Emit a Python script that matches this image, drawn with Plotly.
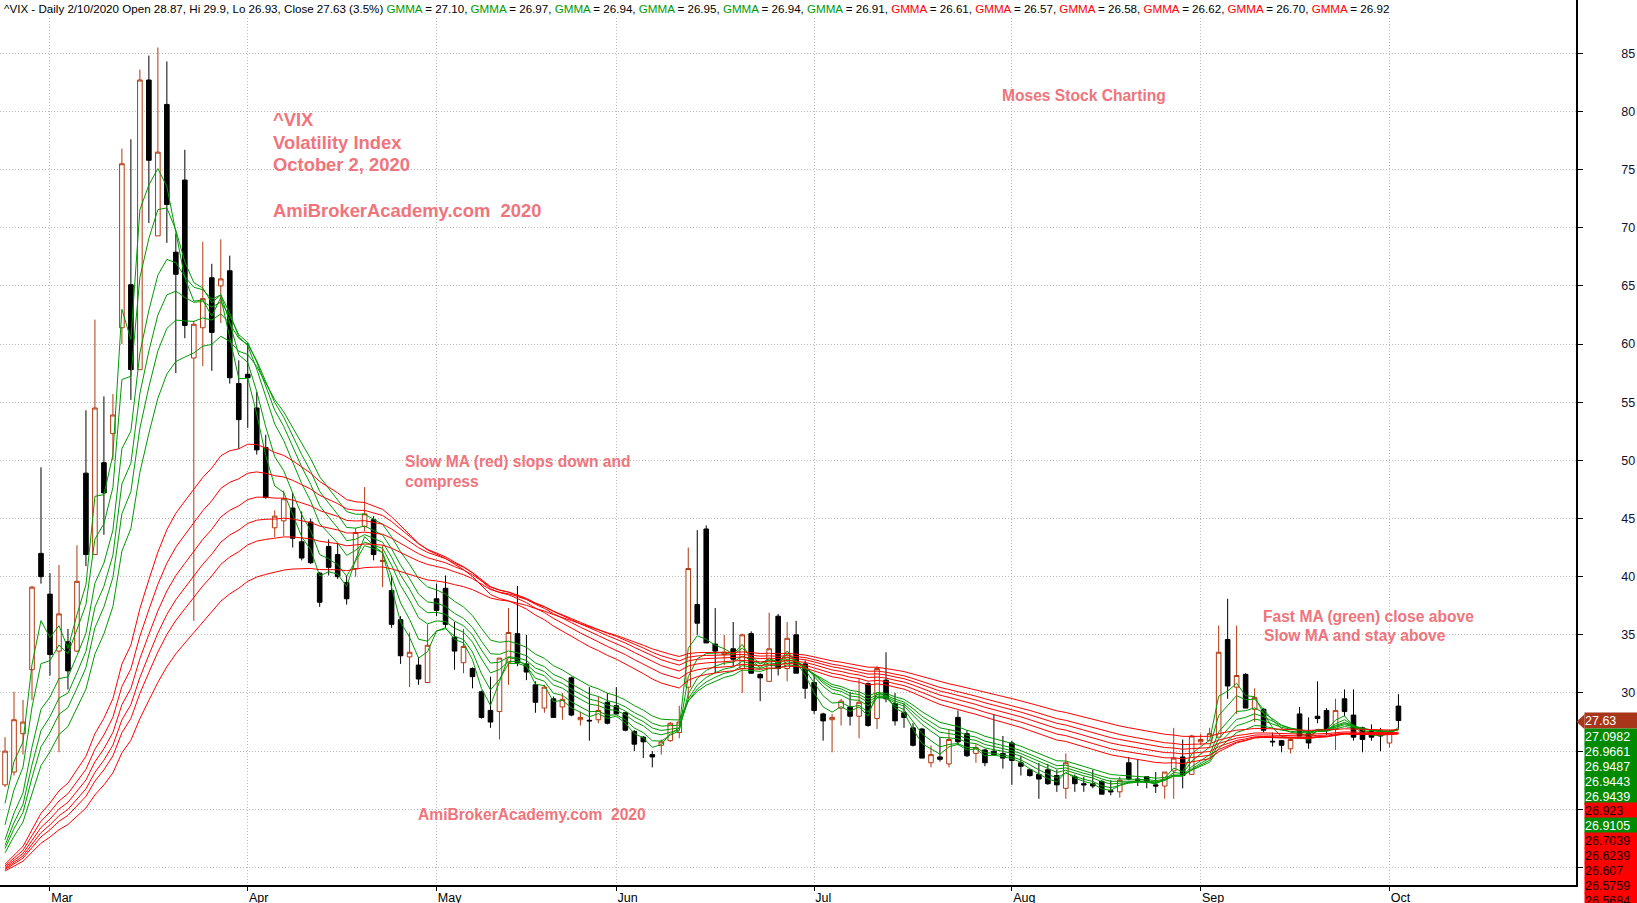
import plotly.graph_objects as go
import pandas as pd

# ---------------- data ----------------
holidays = ["2020-04-10", "2020-05-25", "2020-07-03", "2020-09-07"]
dates = [d for d in pd.bdate_range("2020-02-24", "2020-10-02") if d.strftime("%Y-%m-%d") not in holidays]

opens = [22.1, 23.2, 26.5, 32.0, 42.0, 38.5, 33.6, 34.4, 33.6, 48.9,
         41.9, 49.8, 52.3, 61.4, 65.1, 57.8, 82.7, 69.3, 80.6, 67.9,
         74.1, 58.8, 61.4, 65.7, 65.0, 66.3, 56.6, 57.4, 54.5, 51.1,
         44.2, 44.8, 45.9, 43.0, 44.7, 40.3, 42.6, 41.9, 39.5, 40.7,
         44.3, 44.9, 41.3, 38.8, 36.3, 33.1, 32.4, 30.9, 38.1, 39.0,
         34.8, 32.6, 32.1, 30.1, 28.5, 28.4, 32.6, 35.1, 32.5, 30.7,
         28.7, 29.5, 28.8, 31.3, 27.7, 27.65, 27.7, 29.2, 28.9, 28.3,
         26.7, 26.2, 24.7, 25.5, 25.9, 26.6, 30.5, 37.6, 44.1, 34.2,
         33.3, 33.8, 32.1, 35.1, 31.6, 31.0, 36.6, 32.1, 35.0, 32.5,
         30.9, 28.2, 27.7, 28.7, 28.8, 28.0, 30.8, 27.8, 31.1, 29.1,
         28.3, 27.0, 26.9, 24.0, 24.5, 23.9, 27.9, 26.5, 24.8, 25.1,
         25.0, 24.8, 25.7, 24.0, 23.4, 23.0, 23.4, 22.9, 21.8, 22.8,
         22.2, 22.2, 22.4, 21.6, 21.5, 24.0, 22.6, 22.8, 22.1, 22.0,
         23.3, 24.5, 23.0, 25.8, 25.9, 26.2, 34.6, 30.5, 31.6, 28.6,
         28.6, 25.85, 25.9, 25.2, 28.2, 26.5, 28.0, 28.5, 26.9, 29.5,
         28.1, 27.0, 26.7, 26.7, 25.7, 28.87]
highs = [26.2, 30.1, 29.4, 39.2, 49.4, 40.3, 41.0, 35.5, 42.7, 54.3,
         62.1, 55.5, 55.7, 76.8, 77.6, 83.6, 84.8, 85.5, 84.3, 69.5,
         76.7, 62.0, 68.8, 66.9, 69.0, 67.6, 58.6, 60.1, 55.9, 52.2,
         45.7, 47.4, 47.2, 45.6, 45.0, 40.4, 43.2, 42.9, 40.1, 44.2,
         47.7, 45.2, 42.7, 40.1, 36.6, 35.2, 33.1, 35.9, 39.4, 40.1,
         36.1, 35.5, 32.2, 30.2, 31.4, 33.0, 37.3, 39.2, 35.0, 31.0,
         30.7, 29.7, 30.0, 31.4, 28.4, 30.5, 29.7, 30.0, 30.5, 28.4,
         26.8, 26.3, 25.0, 26.0, 27.5, 28.9, 42.5, 44.0, 44.4, 37.3,
         35.0, 36.1, 35.1, 35.3, 31.7, 36.9, 36.8, 36.1, 36.2, 32.8,
         31.6, 28.3, 28.2, 29.5, 30.1, 31.3, 30.9, 32.3, 33.5, 30.0,
         29.1, 27.4, 27.0, 25.5, 26.2, 26.9, 28.5, 26.8, 25.6, 25.2,
         28.2, 26.3, 25.9, 24.6, 23.5, 24.0, 23.9, 23.4, 24.8, 23.0,
         22.8, 23.4, 22.5, 22.5, 22.8, 24.5, 24.3, 22.8, 23.2, 23.2,
         27.0, 26.0, 26.4, 26.5, 27.0, 35.8, 38.1, 35.8, 31.7, 30.4,
         28.7, 26.6, 25.95, 26.0, 28.8, 27.9, 31.0, 28.7, 29.5, 30.3,
         30.3, 27.1, 27.3, 27.0, 26.8, 29.9]
lows = [21.9, 22.9, 24.7, 29.4, 39.4, 31.5, 24.9, 30.3, 33.5, 40.9,
        41.9, 43.6, 50.0, 60.0, 55.2, 57.8, 70.4, 69.3, 68.7, 57.5,
        60.5, 36.2, 58.1, 57.7, 61.8, 56.6, 51.0, 52.8, 50.5, 46.7,
        43.4, 43.5, 42.5, 41.4, 41.1, 37.4, 40.1, 39.8, 37.6, 40.0,
        43.9, 41.4, 39.1, 35.6, 32.5, 30.5, 30.7, 30.9, 36.6, 35.6,
        32.0, 31.7, 30.4, 27.8, 27.0, 26.0, 30.7, 32.3, 31.1, 28.3,
        28.3, 27.9, 27.7, 28.0, 27.2, 25.9, 27.4, 27.3, 28.2, 26.7,
        25.0, 24.4, 23.6, 24.7, 25.8, 26.1, 29.5, 35.0, 34.3, 31.7,
        32.4, 32.3, 30.0, 31.7, 29.3, 31.0, 31.5, 31.0, 31.7, 29.5,
        28.2, 25.9, 24.9, 27.2, 27.2, 26.1, 27.1, 26.9, 29.2, 27.2,
        27.0, 25.4, 24.4, 23.6, 24.1, 23.6, 25.5, 24.5, 24.0, 23.7,
        24.6, 23.5, 22.1, 22.9, 22.8, 20.9, 22.1, 21.5, 20.9, 21.5,
        21.5, 21.8, 21.3, 21.2, 21.0, 22.5, 22.0, 21.8, 21.4, 20.9,
        20.9, 21.8, 23.0, 25.5, 25.9, 26.2, 29.5, 28.2, 28.7, 27.5,
        26.6, 25.4, 24.9, 24.8, 26.3, 25.2, 27.4, 26.4, 25.1, 28.0,
        25.9, 24.9, 25.9, 25.0, 25.3, 26.93]
closes = [25.0, 27.7, 27.5, 39.1, 40.0, 33.3, 36.8, 31.9, 39.6, 41.9,
          54.5, 47.2, 53.9, 75.5, 57.8, 82.7, 75.8, 76.5, 72.0, 66.0,
          61.6, 61.7, 63.9, 61.0, 65.6, 57.1, 53.5, 57.1, 50.9, 46.8,
          45.2, 46.7, 43.3, 41.6, 41.2, 37.8, 40.8, 40.0, 38.1, 43.8,
          45.4, 41.9, 41.4, 35.9, 33.2, 33.5, 31.2, 34.1, 37.1, 35.9,
          33.6, 34.0, 31.4, 27.9, 27.5, 33.0, 35.2, 32.6, 31.8, 29.2,
          30.5, 27.9, 29.45, 28.1, 27.9, 27.6, 28.5, 27.4, 28.2, 26.8,
          25.6, 25.8, 24.5, 25.8, 27.4, 27.5, 40.7, 36.0, 34.3, 33.6,
          33.5, 32.9, 35.0, 31.7, 31.3, 33.8, 32.1, 34.7, 31.7, 30.4,
          28.5, 27.6, 27.9, 29.3, 28.0, 29.2, 27.2, 32.1, 29.5, 27.6,
          27.9, 25.5, 24.4, 24.7, 24.3, 26.0, 25.8, 24.6, 25.3, 24.0,
          24.7, 24.4, 24.2, 23.7, 22.9, 22.6, 22.2, 22.1, 24.0, 22.2,
          22.1, 22.0, 21.3, 21.5, 22.5, 22.6, 22.5, 22.3, 22.0, 23.2,
          24.4, 22.9, 26.3, 26.0, 26.5, 33.5, 30.6, 31.5, 28.7, 29.6,
          26.8, 25.8, 25.5, 26.0, 26.3, 25.7, 27.8, 26.8, 28.5, 28.4,
          26.2, 26.0, 26.2, 26.3, 26.6, 27.63]

# GMMA periods and the level each average had just before the first visible bar
gmma_periods = [3, 5, 8, 10, 12, 15, 30, 35, 40, 45, 50, 60]
gmma_prior = [16.0, 15.5, 15.2, 15.1, 15.1, 15.0, 14.6, 14.55, 14.5, 14.45, 14.4, 14.35]

month_names = ["Mar", "Apr", "May", "Jun", "Jul", "Aug", "Sep", "Oct"]

title_head = "^VIX - Daily 2/10/2020 Open 28.87, Hi 29.9, Lo 26.93, Close 27.63 (3.5%)"
title_gmma = ["27.10", "26.97", "26.94", "26.95", "26.94", "26.91",
              "26.61", "26.57", "26.58", "26.62", "26.70", "26.92"]

last_close_label = "27.63"
last_labels = ["27.0982", "26.9661", "26.9487", "26.9443", "26.9439", "26.923",
               "26.9105", "26.7039", "26.6239", "26.607", "26.5759", "26.5684"]
last_label_kind = ["fast", "fast", "fast", "fast", "fast", "slow",
                   "fast", "slow", "slow", "slow", "slow", "slow"]

# ---------------- styling ----------------
W, H = 1637, 903
ML, MR, MT, MB = 0, 61, 0, 18
PW, PH = W - ML - MR, H - MT - MB
GREEN = "#009a00"
RED = "#ff0000"
UP = "#b3370e"
NOTE = "#f0747c"
GRID = "#b8b8b8"

def px(xpix):
    return (xpix - ML) / PW

def py(ypix):
    return 1 - (ypix - MT) / PH

idx = list(range(len(dates)))
month_pos = [i for i in idx if i == 0 or dates[i].month != dates[i - 1].month][1:]


def ema(vals, n, start):
    a = 2.0 / (n + 1)
    out, prev = [], start
    for v in vals:
        prev = a * v + (1 - a) * prev
        out.append(prev)
    return out


fig = go.Figure()
for k, (n, s) in enumerate(zip(gmma_periods, gmma_prior)):
    fig.add_trace(go.Scatter(
        x=idx, y=ema(closes, n, s), mode="lines",
        line=dict(color=GREEN if k < 6 else RED, width=1),
        hoverinfo="skip", showlegend=False))

fig.add_trace(go.Candlestick(
    x=idx, open=opens, high=highs, low=lows, close=closes,
    increasing=dict(line=dict(color=UP, width=1), fillcolor="white"),
    decreasing=dict(line=dict(color="black", width=1), fillcolor="black"),
    whiskerwidth=0, showlegend=False))

ann = []
# header line
parts = [f'<span style="color:black">{title_head} </span>']
for k, v in enumerate(title_gmma):
    col = GREEN if k < 6 else RED
    sep = ", " if k < len(title_gmma) - 1 else ""
    parts.append(f'<span style="color:{col}">GMMA</span><span style="color:black"> = {v}{sep}</span>')
ann.append(dict(text="".join(parts), x=px(1), y=py(9), xref="paper", yref="paper",
                xanchor="left", yanchor="middle", showarrow=False, bgcolor="white",
                font=dict(family="Arial", size=11.6, color="black"), borderpad=2))

big = dict(family="Arial", size=18.4, color=NOTE)
small = dict(family="Arial", size=15.6, color=NOTE)
notes = [
    ("<b>^VIX</b>", 272, 119, big),
    ("<b>Volatility Index</b>", 272, 142, big),
    ("<b>October 2, 2020</b>", 272, 165, big),
    ("<b>AmiBrokerAcademy.com\u00a0\u00a02020</b>", 272, 211, big),
    ("<b>Moses Stock Charting</b>", 1001, 96, small),
    ("<b>Slow MA (red) slops down and</b>", 404, 461, small),
    ("<b>compress</b>", 404, 481, small),
    ("<b>AmiBrokerAcademy.com\u00a0\u00a02020</b>", 417, 814, small),
    ("<b>Fast MA (green) close above</b>", 1262, 616, small),
    ("<b>Slow MA and stay above</b>", 1263, 635, small),
]
for t, x, y, f in notes:
    ann.append(dict(text=t, x=px(x), y=py(y), xref="paper", yref="paper",
                    xanchor="left", yanchor="middle", showarrow=False, font=f, borderpad=0))

# last-value labels on the right
ann.append(dict(text=last_close_label, x=px(1584), y=27.63, xref="paper", yref="y",
                xanchor="left", yanchor="middle", showarrow=False, align="left",
                width=56, height=15, borderpad=0, bgcolor="#a8361a",
                font=dict(family="Arial", size=12.5, color="white")))
for k, (t, kind) in enumerate(zip(last_labels, last_label_kind)):
    yp = 736.7 + k * 14.85
    ann.append(dict(text=t, x=px(1584), y=py(yp), xref="paper", yref="paper",
                    xanchor="left", yanchor="middle", showarrow=False, align="left",
                    width=56, height=15, borderpad=0,
                    bgcolor="#008a00" if kind == "fast" else "#ff0000",
                    font=dict(family="Arial", size=12.5,
                              color="white" if kind == "fast" else "#200000")))

shapes = [dict(type="path", xref="paper", yref="paper", fillcolor="#a8361a", line=dict(width=0),
               path=f"M {px(1576.5)},{py(721.7)} L {px(1584.5)},{py(714.2)} L {px(1584.5)},{py(729.2)} Z")]

fig.update_layout(
    width=W, height=H, margin=dict(l=ML, r=MR, t=MT, b=MB, autoexpand=False),
    paper_bgcolor="white", plot_bgcolor="white", showlegend=False,
    boxgap=0.27, annotations=ann, shapes=shapes, hovermode=False,
    xaxis=dict(range=[-0.56, 174.75], tickvals=month_pos, ticktext=month_names,
               ticks="outside", ticklen=4, tickcolor="black",
               ticklabelposition="outside right", automargin=False,
               showline=True, linecolor="black", linewidth=1.5,
               showgrid=True, gridcolor=GRID, griddash="1px,2px", gridwidth=1,
               zeroline=False, rangeslider=dict(visible=False),
               tickfont=dict(family="Arial", size=12.5, color="black")),
    yaxis=dict(side="right", range=[13.49, 89.58], tickvals=list(range(15, 90, 5)),
               ticks="outside", ticklen=5, tickcolor="black", ticklabelstandoff=36,
               ticklabeloverflow="allow", automargin=False,
               showline=True, linecolor="black", linewidth=1.5,
               showgrid=True, gridcolor=GRID, griddash="1px,2px", gridwidth=1,
               zeroline=False, tickfont=dict(family="Arial", size=12.5, color="#101030")),
)

fig.write_html("out.html", config={"displayModeBar": False},
               post_script="document.body.style.margin='0';document.body.style.padding='0';document.body.style.overflow='hidden';")
